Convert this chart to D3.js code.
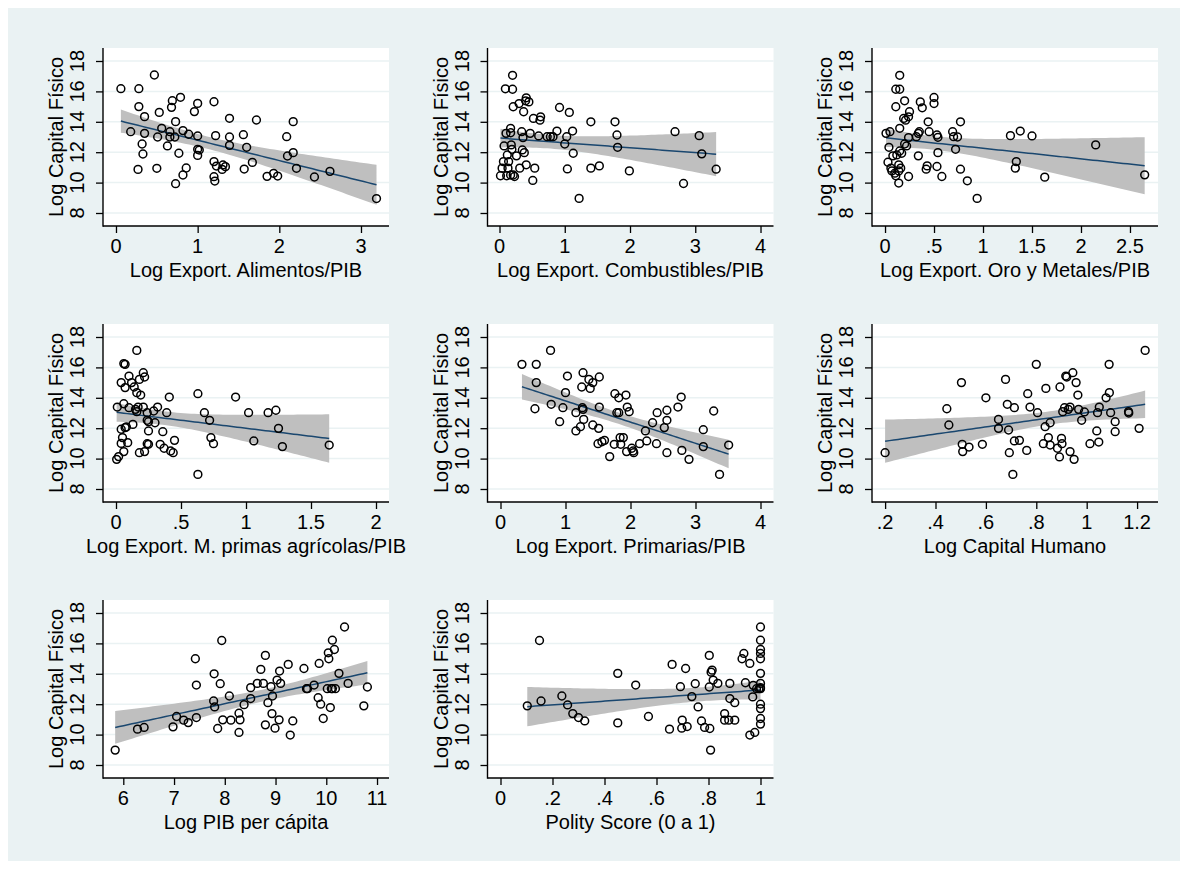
<!DOCTYPE html>
<html>
<head>
<meta charset="utf-8">
<script src="https://cdn.jsdelivr.net/npm/d3@7"></script>
<style>
  body { margin: 0; background: #fff; }
  svg text { font-family: "Liberation Sans", Arial, sans-serif; fill: #000; }
</style>
</head>
<body>
<div id="chart"></div>
<script>
// y axis is shared by every panel
var yTicks = [8, 10, 12, 14, 16, 18];
var yTitle = "Log Capital Físico";

var xTitles = [
  "Log Export. Alimentos/PIB",
  "Log Export. Combustibles/PIB",
  "Log Export. Oro y Metales/PIB",
  "Log Export. M. primas agrícolas/PIB",
  "Log Export. Primarias/PIB",
  "Log Capital Humano",
  "Log PIB per cápita",
  "Polity Score (0 a 1)"
];

var xTicks = [
  [0, 1, 2, 3],
  [0, 1, 2, 3, 4],
  [0, 0.5, 1, 1.5, 2, 2.5],
  [0, 0.5, 1, 1.5, 2],
  [0, 1, 2, 3, 4],
  [0.2, 0.4, 0.6, 0.8, 1, 1.2],
  [6, 7, 8, 9, 10, 11],
  [0, 0.2, 0.4, 0.6, 0.8, 1]
];

// [x, log capital fisico]
var alimentos = [
  [0.06,16.18],[0.28,16.18],[0.47,17.08],[0.18,13.35],[0.28,15.0],[0.35,14.34],[0.35,13.24],[0.32,12.54],
  [0.33,11.88],[0.27,10.87],[0.50,10.94],[0.53,14.62],[0.56,13.57],[0.51,13.0],[0.63,12.41],[0.66,13.35],
  [0.66,13.0],[0.69,15.39],[0.68,14.95],[0.79,15.61],[0.73,14.01],[0.72,13.0],[0.82,13.42],[0.89,13.18],
  [0.77,11.93],[0.73,9.93],[0.82,10.5],[0.86,10.96],[0.96,14.67],[1.0,15.21],[1.0,13.07],[1.0,12.19],
  [1.02,12.14],[1.0,11.79],[1.20,15.32],[1.22,13.09],[1.20,11.38],[1.23,11.09],[1.20,10.39],[1.21,10.1],
  [1.31,11.16],[1.30,10.87],[1.34,11.05],[1.39,14.23],[1.39,13.0],[1.39,12.45],[1.56,13.15],[1.60,12.32],
  [1.57,10.89],[1.67,11.33],[1.72,14.12],[1.85,10.41],[1.93,10.61],[1.98,10.43],[2.09,13.02],[2.10,11.75],
  [2.17,14.01],[2.17,11.97],[2.21,10.94],[2.43,10.37],[2.62,10.74],[3.19,8.95]
];

var combustibles = [
  [0.015,10.45],[0.04,10.95],[0.06,11.38],[0.07,12.41],[0.09,16.17],[0.10,13.24],[0.11,10.45],[0.12,11.82],
  [0.13,10.95],[0.14,11.38],[0.17,13.57],[0.17,13.28],[0.18,12.48],[0.19,12.19],[0.17,10.5],[0.21,10.5],
  [0.23,10.4],[0.20,17.06],[0.20,16.14],[0.21,14.99],[0.26,11.76],[0.30,15.2],[0.31,10.95],[0.34,13.35],
  [0.36,12.96],[0.35,12.15],[0.37,14.66],[0.38,11.97],[0.41,15.58],[0.40,15.38],[0.41,11.17],[0.45,15.31],
  [0.47,13.24],[0.52,14.22],[0.51,10.14],[0.54,10.95],[0.60,13.07],[0.62,14.11],[0.63,14.33],[0.73,13.02],
  [0.78,13.02],[0.82,13.02],[0.88,13.39],[0.92,14.94],[1.0,12.54],[1.03,13.02],[1.04,10.9],[1.07,14.62],
  [1.12,13.39],[1.13,11.93],[1.40,14.0],[1.40,10.95],[1.53,11.1],[1.77,14.0],[1.80,13.13],[1.81,12.32],
  [1.99,10.77],[1.22,8.96],[2.69,13.35],[2.82,9.94],[3.06,13.09],[3.10,11.89],[3.32,10.88]
];

var oroMetales = [
  [0.01,13.24],[0.05,13.35],[0.04,12.32],[0.03,11.34],[0.06,10.95],[0.07,10.77],[0.08,11.76],[0.10,10.62],
  [0.11,10.45],[0.12,11.82],[0.11,14.99],[0.11,16.14],[0.15,17.06],[0.15,16.14],[0.15,13.57],[0.14,9.97],
  [0.14,11.17],[0.15,12.08],[0.14,10.77],[0.16,10.95],[0.17,11.93],[0.20,15.38],[0.19,14.22],[0.21,14.11],
  [0.20,12.54],[0.22,12.41],[0.24,12.96],[0.24,10.4],[0.25,14.66],[0.24,14.33],[0.32,13.02],[0.34,13.24],
  [0.35,13.35],[0.34,11.76],[0.36,15.31],[0.38,14.92],[0.42,10.88],[0.43,11.1],[0.44,14.0],[0.45,13.35],
  [0.50,15.6],[0.50,15.2],[0.53,13.13],[0.54,12.98],[0.53,11.06],[0.54,11.97],[0.58,10.4],[0.69,13.35],
  [0.70,13.02],[0.74,13.0],[0.72,12.19],[0.77,10.88],[0.77,14.0],[0.84,10.12],[0.94,8.96],[1.28,13.09],
  [1.38,13.39],[1.34,11.38],[1.33,10.95],[1.50,13.07],[1.63,10.36],[2.15,12.48],[2.65,10.51]
];

var agricolas = [
  [0.01,13.39],[0.005,9.95],[0.02,10.13],[0.04,11.0],[0.04,15.0],[0.05,11.38],[0.04,11.93],[0.06,16.25],
  [0.07,16.2],[0.07,14.67],[0.06,13.61],[0.07,12.04],[0.08,12.08],[0.06,10.46],[0.09,11.05],[0.10,15.43],
  [0.10,13.35],[0.12,15.0],[0.14,14.71],[0.13,12.25],[0.15,13.24],[0.16,17.12],[0.16,14.34],[0.16,13.09],
  [0.17,13.39],[0.19,14.18],[0.18,15.21],[0.18,10.39],[0.21,15.65],[0.22,15.37],[0.21,13.39],[0.22,10.46],
  [0.24,13.02],[0.24,12.52],[0.25,12.43],[0.24,10.98],[0.25,10.94],[0.25,11.82],[0.29,13.13],[0.32,13.39],
  [0.30,12.36],[0.34,10.94],[0.37,10.68],[0.36,11.77],[0.39,13.02],[0.41,14.05],[0.42,10.5],[0.44,10.39],
  [0.45,11.2],[0.63,14.27],[0.63,8.96],[0.68,13.02],[0.72,12.52],[0.73,11.38],[0.75,10.98],[0.92,14.05],
  [1.02,13.02],[1.06,11.16],[1.17,13.02],[1.23,13.18],[1.25,11.99],[1.28,10.79],[1.64,10.89]
];

var primarias = [
  [0.33,16.2],[0.53,13.28],[0.55,16.2],[0.55,15.0],[0.77,17.12],[0.78,13.57],[0.91,12.43],[0.96,13.35],
  [1.0,14.34],[1.03,15.43],[1.16,13.02],[1.16,11.82],[1.23,12.1],[1.25,14.71],[1.27,15.65],[1.26,13.35],
  [1.27,13.24],[1.28,12.58],[1.36,15.21],[1.38,14.62],[1.42,15.0],[1.42,12.21],[1.52,15.37],[1.52,13.39],
  [1.51,11.99],[1.50,10.98],[1.56,11.11],[1.60,11.2],[1.68,10.13],[1.76,14.27],[1.82,14.0],[1.79,13.02],
  [1.82,13.02],[1.75,10.94],[1.84,11.38],[1.85,10.94],[1.89,11.38],[1.93,14.18],[1.95,13.39],[1.98,13.09],
  [1.94,10.46],[2.02,10.68],[2.04,10.5],[2.05,10.39],[2.14,10.98],[2.23,11.82],[2.25,11.16],[2.34,12.36],
  [2.41,13.02],[2.40,10.98],[2.52,12.04],[2.56,13.18],[2.56,12.52],[2.56,10.39],[2.73,13.39],[2.78,14.05],
  [2.79,10.54],[2.90,9.95],[3.12,11.9],[3.12,10.79],[3.28,13.13],[3.37,8.96],[3.51,10.89]
];

var capitalHumano = [
  [0.2,10.39],[0.445,13.28],[0.453,12.21],[0.503,15.0],[0.506,10.94],[0.508,10.46],[0.533,10.76],[0.586,10.94],
  [0.60,14.0],[0.65,12.58],[0.65,11.99],[0.678,15.21],[0.685,13.57],[0.69,11.88],[0.693,10.39],[0.707,8.96],
  [0.713,13.35],[0.713,11.16],[0.733,11.2],[0.762,10.54],[0.766,14.27],[0.775,13.39],[0.80,16.2],[0.805,13.02],
  [0.828,10.98],[0.835,12.1],[0.838,14.62],[0.848,11.38],[0.855,12.36],[0.855,10.89],[0.884,10.68],[0.892,10.11],
  [0.894,14.71],[0.90,11.33],[0.902,10.98],[0.905,13.09],[0.912,13.35],[0.917,15.43],[0.921,15.37],[0.927,13.24],
  [0.934,13.39],[0.934,10.46],[0.945,15.65],[0.95,9.95],[0.958,15.0],[0.965,14.18],[0.968,13.24],[0.98,12.52],
  [0.991,13.07],[1.013,10.98],[1.04,11.82],[1.043,13.02],[1.048,11.09],[1.05,13.39],[1.077,14.0],[1.089,16.2],
  [1.09,14.34],[1.095,13.02],[1.113,12.43],[1.113,11.77],[1.166,13.09],[1.167,13.0],[1.208,11.99],[1.232,17.12]
];

var pibPerCapita = [
  [5.84,8.98],[6.28,10.36],[6.41,10.47],[6.98,10.51],[7.05,11.19],[7.19,10.95],[7.28,10.79],[7.42,14.99],
  [7.44,13.26],[7.44,11.12],[7.79,14.0],[7.78,12.21],[7.80,11.82],[7.86,10.4],[7.91,13.35],[7.94,16.19],
  [7.96,10.97],[8.09,12.54],[8.12,10.95],[8.28,11.41],[8.30,10.97],[8.28,10.14],[8.38,11.97],[8.51,13.09],
  [8.51,12.37],[8.64,13.37],[8.71,14.29],[8.76,13.37],[8.80,15.21],[8.80,10.64],[8.85,12.10],[8.91,13.15],
  [8.94,12.54],[8.93,11.38],[9.03,13.59],[9.07,10.97],[9.08,14.18],[9.10,13.37],[8.99,10.42],[9.25,14.62],
  [9.29,9.97],[9.34,10.9],[9.56,14.35],[9.61,13.02],[9.63,13.02],[9.76,13.26],[9.84,12.43],[9.86,14.68],
  [9.89,12.0],[9.94,11.06],[10.02,13.02],[10.04,15.38],[10.05,14.99],[10.08,11.78],[10.10,13.02],[10.12,16.21],
  [10.12,13.02],[10.16,15.6],[10.18,13.02],[10.25,14.03],[10.36,17.08],[10.43,13.37],[10.74,11.89],[10.81,13.13]
];

var polity = [
  [0.103,11.89],[0.15,16.19],[0.156,12.21],[0.236,12.54],[0.258,11.95],[0.278,11.38],[0.30,11.12],[0.324,10.9],
  [0.451,14.03],[0.451,10.77],[0.52,13.26],[0.569,11.19],[0.65,10.36],[0.66,14.62],[0.692,13.15],[0.699,10.95],
  [0.697,10.42],[0.712,14.35],[0.718,10.53],[0.736,12.5],[0.749,13.35],[0.76,11.82],[0.773,10.9],[0.785,10.47],
  [0.803,15.21],[0.803,13.13],[0.805,10.4],[0.808,8.98],[0.81,14.11],[0.814,14.24],[0.818,13.59],[0.836,13.37],
  [0.862,11.38],[0.862,10.95],[0.878,10.95],[0.882,13.37],[0.882,12.37],[0.901,12.1],[0.901,10.95],[0.929,14.99],
  [0.936,15.34],[0.942,13.41],[0.959,14.68],[0.959,9.97],[0.97,12.48],[0.972,13.24],[0.978,10.14],[0.985,13.02],
  [1,17.08],[1,16.21],[1,15.6],[1,15.34],[1,14.99],[1,14.03],[1,13.37],[1,13.09],
  [1,13.02],[1,12.0],[1,11.71],[1,11.06],[1,10.69],[0.994,13.02]
];

var series = [alimentos, combustibles, oroMetales, agricolas, primarias, capitalHumano, pibPerCapita, polity];

// visible x range of every panel (Stata pads past the ticks)
var xRanges = [
  [-0.159, 3.343], [-0.184, 4.199], [-0.133, 2.786], [-0.1, 2.1],
  [-0.2, 4.2], [0.148, 1.283], [5.6, 11.236], [-0.05, 1.05]
];

var width = 1188, height = 869;
var colStep = 384.5, rowStep = 276;
var plotLeft = 103, plotW = 286, plotTop = 48, plotH = 178;

var svg = d3.select("#chart").append("svg")
  .attr("width", width)
  .attr("height", height);

svg.append("rect")
  .attr("x", 8).attr("y", 8)
  .attr("width", width - 16).attr("height", height - 16)
  .attr("fill", "#eaf2f3");

function fmt(v){
  var s = String(+v.toFixed(2));
  return s.replace(/^0\./, ".");
}

// OLS fit with 95% confidence band for the mean
function fitci(pts){
  var n = pts.length;
  var mx = d3.mean(pts, function(d){ return d[0]; });
  var my = d3.mean(pts, function(d){ return d[1]; });
  var sxx = 0, sxy = 0;
  pts.forEach(function(d){ sxx += (d[0]-mx)*(d[0]-mx); sxy += (d[0]-mx)*(d[1]-my); });
  var b = sxy / sxx, a = my - b*mx;
  var sse = 0;
  pts.forEach(function(d){ var r = d[1] - a - b*d[0]; sse += r*r; });
  var s = Math.sqrt(sse / (n - 2));
  var t = 1.999;
  var ext = d3.extent(pts, function(d){ return d[0]; });
  var out = [];
  for (var i = 0; i <= 60; i++){
    var x = ext[0] + (ext[1]-ext[0]) * i / 60;
    var yhat = a + b*x;
    var se = s * Math.sqrt(1/n + (x-mx)*(x-mx)/sxx);
    out.push({x: x, y: yhat, lo: yhat - t*se, hi: yhat + t*se});
  }
  return out;
}

series.forEach(function(pts, i){
  var col = i % 3, row = Math.floor(i / 3);
  var g = svg.append("g")
    .attr("transform", "translate(" + (col*colStep) + "," + (row*rowStep) + ")");

  var x = d3.scaleLinear().domain(xRanges[i]).range([plotLeft, plotLeft + plotW]);
  var y = d3.scaleLinear().domain([8, 18]).range([213, 61]);

  g.append("rect")
    .attr("x", plotLeft).attr("y", plotTop)
    .attr("width", plotW).attr("height", plotH)
    .attr("fill", "#fff");

  g.selectAll(".grid")
    .data(yTicks)
    .enter().append("line")
      .attr("class", "grid")
      .attr("x1", plotLeft).attr("x2", plotLeft + plotW)
      .attr("y1", function(d){ return y(d); })
      .attr("y2", function(d){ return y(d); })
      .style("stroke", "#eaf2f3")
      .style("stroke-width", 1.5);

  var fit = fitci(pts);
  g.append("path")
    .datum(fit)
    .attr("fill", "#bfbfbf")
    .attr("d", d3.area()
      .x(function(d){ return x(d.x); })
      .y0(function(d){ return y(d.lo); })
      .y1(function(d){ return y(d.hi); }));
  g.append("path")
    .datum(fit)
    .attr("fill", "none")
    .style("stroke", "#1a476f")
    .style("stroke-width", 1.5)
    .attr("d", d3.line()
      .x(function(d){ return x(d.x); })
      .y(function(d){ return y(d.y); }));

  g.selectAll(".pt")
    .data(pts)
    .enter().append("circle")
      .attr("class", "pt")
      .attr("cx", function(d){ return x(d[0]); })
      .attr("cy", function(d){ return y(d[1]); })
      .attr("r", 3.9)
      .attr("fill", "none")
      .style("stroke", "#000")
      .style("stroke-width", 1.5);

  // axes
  var yAxis = g.append("g").attr("transform", "translate(" + plotLeft + ",0)")
    .call(d3.axisLeft(y).tickValues(yTicks).tickSize(7).tickFormat(""));
  var xAxis = g.append("g").attr("transform", "translate(0," + (plotTop + plotH) + ")")
    .call(d3.axisBottom(x).tickValues(xTicks[i]).tickSize(7).tickFormat(""));
  [yAxis, xAxis].forEach(function(ax){
    ax.select(".domain").attr("d", null).remove();
    ax.selectAll("line").style("stroke", "#000").style("stroke-width", 1.3);
  });
  g.append("line")
    .attr("x1", plotLeft).attr("x2", plotLeft)
    .attr("y1", plotTop).attr("y2", plotTop + plotH + 0.7)
    .style("stroke", "#000").style("stroke-width", 1.4);
  g.append("line")
    .attr("x1", plotLeft).attr("x2", plotLeft + plotW)
    .attr("y1", plotTop + plotH).attr("y2", plotTop + plotH)
    .style("stroke", "#000").style("stroke-width", 1.4);

  g.selectAll(".ylab")
    .data(yTicks)
    .enter().append("text")
      .attr("class", "ylab")
      .attr("transform", function(d){ return "translate(84," + y(d) + ") rotate(-90)"; })
      .attr("font-size", "20px")
      .style("text-anchor", "middle")
      .text(function(d){ return d; });

  g.selectAll(".xlab")
    .data(xTicks[i])
    .enter().append("text")
      .attr("class", "xlab")
      .attr("x", function(d){ return x(d); })
      .attr("y", 253)
      .attr("font-size", "20px")
      .style("text-anchor", "middle")
      .text(fmt);

  g.append("text")
    .attr("transform", "translate(63," + (plotTop + plotH/2) + ") rotate(-90)")
    .attr("font-size", "20px")
    .style("text-anchor", "middle")
    .text(yTitle);

  g.append("text")
    .attr("x", plotLeft + plotW/2)
    .attr("y", 277)
    .attr("font-size", "20px")
    .style("text-anchor", "middle")
    .text(xTitles[i]);
});
</script>
</body>
</html>
